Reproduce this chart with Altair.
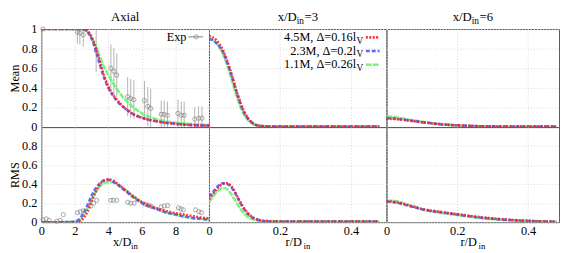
import altair as alt
import pandas as pd

FONT = "Liberation Serif"

# ---------------- data ----------------
series_names = ["4.5M, Δ=0.16l", "2.3M, Δ=0.2l", "1.1M, Δ=0.26l"]
series_sub = "V"
series_colors = ["#ff1a1a", "#5252ff", "#66f566"]
series_dashes = [[2, 1.5], [4, 2], [6, 1]]

# Mean, axial
mean_ax_x = [0, 1, 2, 2.5, 2.75, 3, 3.25, 3.5, 3.75, 4, 4.5, 5, 5.5, 6, 7, 8, 9, 10]
mean_ax_45 = [1, 1, 1, 1, 0.98, 0.92, 0.81, 0.66, 0.52, 0.41, 0.28, 0.19, 0.13, 0.095, 0.055, 0.033, 0.02, 0.015]
mean_ax_23 = [1, 1, 1, 0.995, 0.97, 0.9, 0.78, 0.63, 0.5, 0.4, 0.27, 0.19, 0.13, 0.095, 0.055, 0.033, 0.02, 0.015]
mean_ax_11 = [1, 1, 1, 0.995, 0.97, 0.91, 0.82, 0.71, 0.61, 0.53, 0.39, 0.28, 0.2, 0.14, 0.075, 0.045, 0.03, 0.02]

# Mean, x/D=3
mean_r3_x = [0, 0.02, 0.04, 0.06, 0.08, 0.1, 0.12, 0.14, 0.16, 0.2, 0.3, 0.4, 0.48]
mean_r3_45 = [0.93, 0.89, 0.78, 0.58, 0.34, 0.15, 0.05, 0.015, 0.008, 0.005, 0.005, 0.005, 0.005]
mean_r3_23 = [0.9, 0.86, 0.76, 0.57, 0.33, 0.14, 0.05, 0.015, 0.008, 0.005, 0.005, 0.005, 0.005]
mean_r3_11 = [0.91, 0.86, 0.74, 0.53, 0.29, 0.12, 0.04, 0.012, 0.007, 0.005, 0.005, 0.005, 0.005]

# Mean, x/D=6
mean_r6_x = [0, 0.02, 0.05, 0.1, 0.15, 0.2, 0.25, 0.3, 0.4, 0.48]
mean_r6_45 = [0.085, 0.083, 0.072, 0.05, 0.03, 0.018, 0.01, 0.007, 0.005, 0.005]
mean_r6_23 = [0.09, 0.088, 0.075, 0.05, 0.03, 0.018, 0.01, 0.007, 0.005, 0.005]
mean_r6_11 = [0.11, 0.105, 0.085, 0.055, 0.03, 0.016, 0.01, 0.006, 0.005, 0.005]

# RMS, axial
rms_ax_x = [0, 1, 2, 2.25, 2.5, 2.75, 3, 3.25, 3.5, 3.75, 4, 4.25, 4.5, 5, 5.5, 6, 6.5, 7, 7.5, 8, 8.5, 9, 9.5, 10]
rms_ax_45 = [0, 0, 0, 0.005, 0.04, 0.11, 0.22, 0.32, 0.4, 0.44, 0.45, 0.44, 0.41, 0.34, 0.27, 0.21, 0.17, 0.14, 0.115, 0.095, 0.08, 0.065, 0.05, 0.04]
rms_ax_23 = [0, 0, 0.005, 0.03, 0.09, 0.18, 0.28, 0.36, 0.41, 0.44, 0.445, 0.43, 0.4, 0.33, 0.26, 0.2, 0.16, 0.13, 0.1, 0.08, 0.06, 0.045, 0.035, 0.025]
rms_ax_11 = [0, 0, 0.005, 0.02, 0.07, 0.15, 0.24, 0.32, 0.38, 0.41, 0.42, 0.42, 0.4, 0.34, 0.27, 0.21, 0.165, 0.13, 0.1, 0.08, 0.06, 0.045, 0.035, 0.025]

# RMS, x/D=3
rms_r3_x = [0, 0.01, 0.02, 0.03, 0.04, 0.05, 0.06, 0.07, 0.08, 0.09, 0.1, 0.12, 0.14, 0.16, 0.2, 0.3, 0.4, 0.48]
rms_r3_45 = [0.24, 0.29, 0.34, 0.38, 0.405, 0.41, 0.39, 0.34, 0.27, 0.2, 0.14, 0.06, 0.025, 0.012, 0.008, 0.006, 0.006, 0.006]
rms_r3_23 = [0.27, 0.31, 0.36, 0.395, 0.41, 0.405, 0.38, 0.33, 0.26, 0.19, 0.13, 0.055, 0.022, 0.01, 0.007, 0.006, 0.006, 0.006]
rms_r3_11 = [0.21, 0.26, 0.31, 0.345, 0.36, 0.35, 0.31, 0.25, 0.19, 0.13, 0.085, 0.035, 0.015, 0.008, 0.006, 0.006, 0.006, 0.006]

# RMS, x/D=6
rms_r6_x = [0, 0.02, 0.04, 0.06, 0.08, 0.1, 0.15, 0.2, 0.25, 0.3, 0.35, 0.4, 0.45, 0.48]
rms_r6_45 = [0.22, 0.215, 0.2, 0.18, 0.16, 0.14, 0.11, 0.085, 0.06, 0.04, 0.025, 0.015, 0.008, 0.005]
rms_r6_23 = [0.215, 0.21, 0.195, 0.175, 0.155, 0.135, 0.105, 0.08, 0.055, 0.035, 0.022, 0.013, 0.007, 0.005]
rms_r6_11 = [0.225, 0.225, 0.21, 0.185, 0.16, 0.135, 0.1, 0.075, 0.05, 0.032, 0.02, 0.012, 0.007, 0.005]

# Experiments (axial)
exp_label = "Exp"
exp_mean_x = [0.1, 2.15, 2.3, 2.5, 3.27, 4.15, 4.33, 4.5, 5.15, 5.33, 5.52, 6.15, 6.35, 6.52,
              7.15, 7.33, 7.52, 8.15, 8.35, 8.52, 9.15, 9.38, 9.58]
exp_mean_y = [1.0, 0.97, 0.96, 0.94, 0.78, 0.6, 0.57, 0.53, 0.31, 0.29, 0.28, 0.27, 0.21, 0.19,
              0.13, 0.13, 0.12, 0.14, 0.12, 0.12, 0.08, 0.09, 0.09]
exp_mean_err = [0.0, 0.12, 0.12, 0.12, 0.22, 0.24, 0.24, 0.22, 0.2, 0.2, 0.2, 0.2, 0.2, 0.2,
                0.14, 0.14, 0.14, 0.14, 0.14, 0.14, 0.12, 0.12, 0.12]
exp_rms_x = [0.1, 0.29, 0.47, 0.92, 1.12, 1.31, 2.15, 2.33, 2.5, 2.96, 3.12, 3.3, 4.14, 4.3, 4.5,
             5.16, 5.33, 5.53, 6.16, 6.35, 6.53, 7.14, 7.33, 7.53, 8.18, 8.33, 8.47, 9.2, 9.4, 9.55]
exp_rms_y = [0.025, 0.035, 0.02, 0.01, 0.02, 0.08, 0.1, 0.11, 0.12, 0.17, 0.2, 0.23, 0.23, 0.23, 0.23,
             0.21, 0.2, 0.2, 0.19, 0.18, 0.17, 0.16, 0.17, 0.175, 0.15, 0.14, 0.13, 0.13, 0.11, 0.1]

panel_titles = [("Axial", None, None), ("x/D", "in", "=3"), ("x/D", "in", "=6")]
row_titles = ["Mean", "RMS"]
x_titles = [("x/D", "in"), ("r/D", "in"), ("r/D", "in")]
axial_ticks = [0, 2, 4, 6, 8]
radial_ticks = [0, 0.2, 0.4]
mean_ticks = [0, 0.2, 0.4, 0.6, 0.8, 1]
mean_tick_labels = ["0", "0.2", "0.4", "0.6", "0.8", "1"]
rms_ticks = [0, 0.2, 0.4, 0.6, 0.8]
rms_tick_labels = ["0", "0.2", "0.4", "0.6", "0.8"]

# ---------------- layout ----------------
W = [171, 181, 176]
H = [100, 97]
XDOM = [[0, 10], [0, 0.5], [0, 0.4875]]
XTICKS = [axial_ticks, radial_ticks, radial_ticks]
XFMT = ["d", ".1~f", ".1~f"]
YDOM = [0, 1]


def one_row(value):
    return alt.Chart(pd.DataFrame({"t": [value]}))


def txt(s, x, y, size=12, align="left"):
    return one_row(s).mark_text(font=FONT, fontSize=size, align=align,
                                baseline="alphabetic", color="black").encode(
        x=alt.value(x), y=alt.value(y), text="t:N")


def make_axes(col, row):
    if row == 0:
        xa = alt.Axis(values=XTICKS[col], tickCount=12, labels=False, ticks=False,
                      domain=False, grid=True, title=None)
    else:
        xa = alt.Axis(values=XTICKS[col], tickCount=12, format=XFMT[col], ticks=False,
                      domain=False, grid=True, title=None, labelPadding=3, labelFlush=False,
                      labelOverlap=False, labelFontSize=12.5)
    yt = mean_ticks if row == 0 else rms_ticks
    if col == 0:
        ya = alt.Axis(values=yt, tickCount=12, labels=False, ticks=False, domain=False,
                      grid=True, title=row_titles[row], titlePadding=20,
                      titleFontSize=12.5, titleFontWeight="normal")
    else:
        ya = alt.Axis(values=yt, tickCount=12, labels=False, ticks=False, domain=False,
                      grid=True, title=None)
    return xa, ya


def ylabel_layers(row, yscale):
    vals = mean_ticks if row == 0 else rms_ticks
    labs = mean_tick_labels if row == 0 else rms_tick_labels
    out = []
    for v, lab in zip(vals, labs):
        out.append(one_row(lab).mark_text(
            font=FONT, fontSize=12.5, align="right", baseline="middle", dx=-4,
            color="black").encode(x=alt.value(0), y=alt.datum(v, scale=yscale), text="t:N"))
    return out


def panel(col, row, xs, ys_list, extra_before=(), extra_after=()):
    xa, ya = make_axes(col, row)
    yscale = alt.Scale(domain=YDOM, nice=False)
    xenc = alt.X("x:Q", scale=alt.Scale(domain=XDOM[col], nice=False, zero=False), axis=xa)
    yenc = alt.Y("y:Q", scale=yscale, axis=ya)
    layers = []
    for lay in extra_before:
        layers.append(lay(xenc, yenc))
    for i in [2, 1, 0]:
        df = pd.DataFrame({"x": xs, "y": ys_list[i]})
        layers.append(alt.Chart(df).mark_line(
            color=series_colors[i], strokeDash=series_dashes[i], strokeWidth=2.6,
            opacity=0.85, clip=True, interpolate="monotone").encode(x=xenc, y=yenc))
    if col == 0:
        layers.extend(ylabel_layers(row, yscale))
    layers.extend(extra_after)
    return alt.layer(*layers).properties(width=W[col], height=H[row])


def exp_mean_layers(xenc, yenc):
    df = pd.DataFrame({"x": exp_mean_x, "y": exp_mean_y, "err": exp_mean_err})
    base = alt.Chart(df).transform_calculate(lo="datum.y - datum.err", hi="datum.y + datum.err")
    bars = base.mark_rule(color="#a8a8a8", strokeWidth=0.9, clip=True).encode(
        x=xenc, y=alt.Y("lo:Q", scale=alt.Scale(domain=YDOM, nice=False),
                        axis=make_axes(0, 0)[1]), y2="hi:Q")
    pts = base.mark_point(shape="circle", filled=False, color="#808080", size=18,
                          strokeWidth=1).encode(x=xenc, y=yenc)
    return alt.layer(bars, pts)


def exp_rms_layers(xenc, yenc):
    df = pd.DataFrame({"x": exp_rms_x, "y": exp_rms_y})
    return alt.Chart(df).mark_point(shape="circle", filled=False, color="#808080", size=18,
                                    strokeWidth=1).encode(x=xenc, y=yenc)


def title_layers(col):
    main, sub, rest = panel_titles[col]
    if sub is None:
        return [txt(main, W[col] / 2, -8, size=13, align="center")]
    x0 = W[col] / 2 - 20.5
    return [txt(main, x0, -8, size=13), txt(sub, x0 + 19.5, -5, size=9.5),
            txt(rest, x0 + 27.5, -8, size=13)]


def xtitle_layers(col):
    main, sub = x_titles[col]
    x0 = W[col] / 2 - 12.5
    return [txt(main, x0, H[1] + 24, size=12.5), txt(sub, x0 + 18.5, H[1] + 27, size=9)]


exp_legend = [
    txt(exp_label, 148, 12, size=12.5, align="right"),
    one_row(0).mark_rule(color="#808080", strokeWidth=1).encode(
        x=alt.value(150), x2=alt.value(165), y=alt.value(8)),
    one_row(0).mark_point(shape="circle", filled=False, color="#808080", size=18,
                          strokeWidth=1).encode(x=alt.value(158), y=alt.value(8)),
]

sim_legend = []
for i, name in enumerate(series_names):
    yb = 12 + 14 * i
    sim_legend.append(txt(name, 150, yb, size=12.5, align="right"))
    sim_legend.append(txt(series_sub, 150.5, yb + 3, size=9.5))
    sim_legend.append(one_row(0).mark_rule(color=series_colors[i], strokeDash=series_dashes[i],
                                           strokeWidth=2.6, opacity=0.9).encode(
        x=alt.value(160), x2=alt.value(174), y=alt.value(yb - 3.5)))

panels = [
    panel(0, 0, mean_ax_x, [mean_ax_45, mean_ax_23, mean_ax_11],
          extra_before=[exp_mean_layers], extra_after=title_layers(0) + exp_legend),
    panel(1, 0, mean_r3_x, [mean_r3_45, mean_r3_23, mean_r3_11],
          extra_after=title_layers(1) + sim_legend),
    panel(2, 0, mean_r6_x, [mean_r6_45, mean_r6_23, mean_r6_11],
          extra_after=title_layers(2)),
    panel(0, 1, rms_ax_x, [rms_ax_45, rms_ax_23, rms_ax_11],
          extra_before=[exp_rms_layers], extra_after=xtitle_layers(0)),
    panel(1, 1, rms_r3_x, [rms_r3_45, rms_r3_23, rms_r3_11], extra_after=xtitle_layers(1)),
    panel(2, 1, rms_r6_x, [rms_r6_45, rms_r6_23, rms_r6_11], extra_after=xtitle_layers(2)),
]

chart = alt.concat(*panels, columns=3, spacing=0, bounds="flush", align="each").properties(
    padding=0, background="white"
).configure_axis(
    labelFont=FONT, titleFont=FONT, labelColor="black", titleColor="black",
    gridColor="#d6d6d6", gridDash=[1, 2], gridWidth=1,
).configure_view(stroke="#5a5a5a", strokeWidth=1)

chart.save("out.html", embed_options={"renderer": "svg", "actions": False})
